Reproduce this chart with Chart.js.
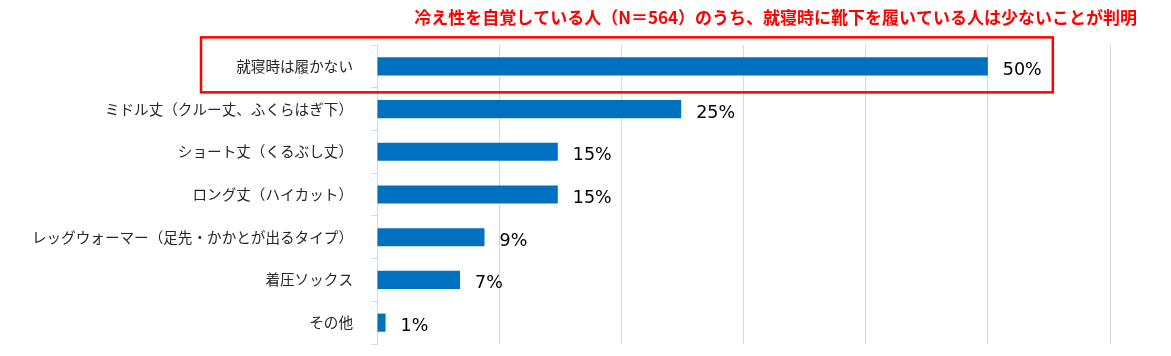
<!DOCTYPE html>
<html>
<head>
<meta charset="utf-8">
<script src="https://cdn.jsdelivr.net/npm/chart.js@4"></script>
<style>
html,body{margin:0;padding:0;background:#fff;}
#wrap{width:1171px;height:356px;position:relative;}
</style>
</head>
<body>
<div id="wrap"><canvas id="c" width="1171" height="356"></canvas></div>
<script>
const titleText = '冷え性を自覚している人（N＝564）のうち、就寝時に靴下を履いている人は少ないことが判明';
const categories = ['就寝時は履かない','ミドル丈（クルー丈、ふくらはぎ下）','ショート丈（くるぶし丈）','ロング丈（ハイカット）','レッグウォーマー（足先・かかとが出るタイプ）','着圧ソックス','その他'];
const values = [50, 24.9, 14.8, 14.8, 8.8, 6.8, 0.7];
const valueLabels = ['50%','25%','15%','15%','9%','7%','1%'];
const xTicks = [0, 10, 20, 30, 40, 50, 60];

const FONT = '"Noto Sans CJK JP", "Noto Sans", sans-serif';

const decoPlugin = {
  id: 'deco',
  afterDatasetsDraw(chart) {
    const ctx = chart.ctx;
    const meta = chart.getDatasetMeta(0);
    ctx.save();
    ctx.fillStyle = '#000';
    ctx.font = '17.5px "DejaVu Sans", sans-serif';
    ctx.textAlign = 'left';
    ctx.textBaseline = 'middle';
    meta.data.forEach((bar, i) => {
      ctx.fillText(valueLabels[i], bar.x + 15, bar.y + 4);
    });
    // red highlight box around first row
    const xs = chart.scales.x, ys = chart.scales.y;
    const y0 = ys.getPixelForValue(0);
    const left = chart.chartArea.left - 176;
    const right = xs.getPixelForValue(50) + 65;
    ctx.strokeStyle = '#FF0000';
    ctx.lineWidth = 2.5;
    ctx.strokeRect(left, y0 - 29, right - left, 55);
    // title
    ctx.fillStyle = '#FF0000';
    ctx.font = 'bold 17px ' + FONT;
    ctx.textAlign = 'right';
    ctx.fillText(titleText, 1137, 18);
    ctx.restore();
  }
};

new Chart(document.getElementById('c'), {
  type: 'bar',
  data: {
    labels: categories,
    datasets: [{
      data: values,
      backgroundColor: '#0070C0',
      borderWidth: 0,
      barPercentage: 0.85,
      categoryPercentage: 0.5
    }]
  },
  options: {
    indexAxis: 'y',
    responsive: false,
    animation: false,
    layout: { padding: { top: 45, right: 61, bottom: 12, left: 0 } },
    plugins: { legend: { display: false }, tooltip: { enabled: false }, title: { display: false } },
    scales: {
      x: {
        min: 0, max: 60,
        afterBuildTicks(scale) { scale.ticks = xTicks.map(v => ({ value: v })); },
        ticks: { display: false },
        grid: { color: '#D9D9D9', lineWidth: 1, drawTicks: false },
        border: { display: false }
      },
      y: {
        afterFit(scale) { scale.width = 377; scale.paddingTop = 0; scale.paddingBottom = 0; },
        ticks: { color: '#262626', font: { family: FONT, size: 14.6 }, padding: 18 },
        grid: { offset: true, drawOnChartArea: false, color: '#D9D9D9', tickLength: 6 },
        border: { display: true, color: '#D9D9D9' }
      }
    }
  },
  plugins: [decoPlugin]
});
</script>
</body>
</html>
